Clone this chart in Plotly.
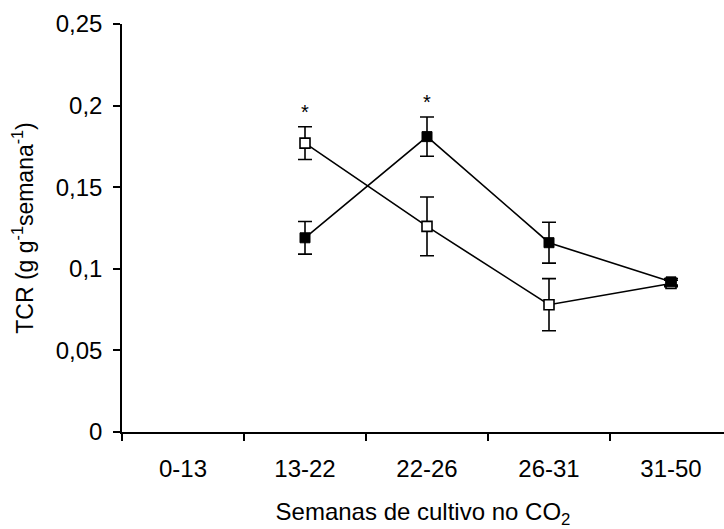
import plotly.graph_objects as go

# Growth-rate data per cultivation interval
categorias = ["0-13", "13-22", "22-26", "26-31", "31-50"]
periodos = ["13-22", "22-26", "26-31", "31-50"]

tcr_aberto = [0.177, 0.126, 0.078, 0.091]
erro_aberto = [0.010, 0.018, 0.016, 0.002]

tcr_cheio = [0.119, 0.181, 0.116, 0.092]
erro_cheio = [0.010, 0.012, 0.0125, 0.002]

# Intervals with significant difference
signif = ["13-22", "22-26"]

FONT = "Liberation Sans"
FS = 24

fig = go.Figure()

fig.add_trace(go.Scatter(
    x=periodos, y=tcr_aberto,
    mode="lines+markers",
    line=dict(color="black", width=1.6),
    marker=dict(symbol="square", size=10, color="white",
                line=dict(color="black", width=1.6)),
    error_y=dict(type="data", array=erro_aberto, visible=True,
                 color="black", thickness=1.6, width=7),
    showlegend=False,
))

fig.add_trace(go.Scatter(
    x=periodos, y=tcr_cheio,
    mode="lines+markers",
    line=dict(color="black", width=1.6),
    marker=dict(symbol="square", size=10, color="black",
                line=dict(color="black", width=1)),
    error_y=dict(type="data", array=erro_cheio, visible=True,
                 color="black", thickness=1.6, width=7),
    showlegend=False,
))

# Asterisks above the upper error bar of each significant interval
for p in signif:
    i = periodos.index(p)
    topo = max(tcr_aberto[i] + erro_aberto[i], tcr_cheio[i] + erro_cheio[i])
    fig.add_annotation(x=p, y=topo, text="*", showarrow=False,
                       yanchor="bottom", yshift=2,
                       font=dict(family=FONT, size=20, color="black"))

fig.update_layout(
    width=724, height=529,
    margin=dict(l=122, r=0, t=24, b=97),
    paper_bgcolor="white", plot_bgcolor="white",
    font=dict(family=FONT, size=FS, color="black"),
    xaxis=dict(
        type="category",
        categoryorder="array", categoryarray=categorias,
        range=[-0.5, -0.5 + 602 / 122],
        tickson="boundaries",
        ticks="outside", ticklen=7, tickwidth=1.5, tickcolor="black",
        showline=True, linecolor="black", linewidth=1.5,
        showgrid=False, zeroline=False,
        ticklabelstandoff=14,
        tickfont=dict(family=FONT, size=FS, color="black"),
        title=dict(text="Semanas de cultivo no CO<sub>2</sub>",
                   font=dict(family=FONT, size=FS, color="black"), standoff=29),
    ),
    yaxis=dict(
        range=[0, 0.25],
        tickvals=[0, 0.05, 0.1, 0.15, 0.2, 0.25],
        ticktext=["0", "0,05", "0,1", "0,15", "0,2", "0,25"],
        ticks="outside", ticklen=7, tickwidth=1.5, tickcolor="black",
        showline=True, linecolor="black", linewidth=1.5,
        showgrid=False, zeroline=False,
        ticklabelstandoff=6,
        tickfont=dict(family=FONT, size=FS, color="black"),
        title=dict(text="TCR (g g<sup>-1</sup>semana<sup>-1</sup>)",
                   font=dict(family=FONT, size=23, color="black"), standoff=16),
    ),
)

fig.write_html("out.html")
